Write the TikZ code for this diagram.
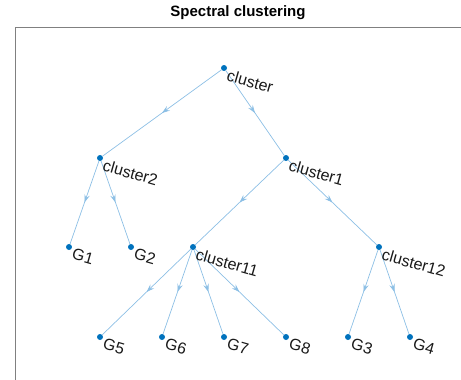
\documentclass[tikz,border=0pt]{standalone}
\usepackage{fontspec}
\setmainfont{Liberation Sans}
\usetikzlibrary{arrows.meta,decorations.markings}
\definecolor{mblue}{rgb}{0,0.447,0.741}
\definecolor{eblue}{rgb}{0.55,0.75,0.9}
\definecolor{axgray}{rgb}{0.5,0.5,0.5}
\tikzset{
  dot/.style={circle,fill=mblue,inner sep=0,minimum size=6pt},
  lbl/.style={anchor=north west,inner sep=0,rotate=-16,font=\fontsize{16}{18}\selectfont,text=black!90},
  edge/.style={draw=eblue,line width=0.7pt,postaction={decorate},
    decoration={markings,mark=at position 0.5 with {\arrow[eblue]{Stealth[length=8pt,width=5.5pt,inset=3pt]}}}},
}
\begin{document}
\begin{tikzpicture}[x=1pt,y=-1pt]
\useasboundingbox (0,0) rectangle (461,380);
% axes
\draw[axgray,line width=1pt] (15,380) -- (15,27) -- (461,27);
\node[font=\bfseries\fontsize{15}{17}\selectfont] (title) at (238,13) {Spectral clustering};
% nodes
\node[dot] (cluster) at (224,68) {};
\node[dot] (cluster2) at (100,158) {};
\node[dot] (cluster1) at (286,158) {};
\node[dot] (G1) at (69,247) {};
\node[dot] (G2) at (131,247) {};
\node[dot] (cluster11) at (193,247) {};
\node[dot] (cluster12) at (379,247) {};
\node[dot] (G5) at (100,337) {};
\node[dot] (G6) at (162,337) {};
\node[dot] (G7) at (224,337) {};
\node[dot] (G8) at (286,337) {};
\node[dot] (G3) at (348,337) {};
\node[dot] (G4) at (410,337) {};
% edges
\foreach \a/\b in {cluster/cluster2,cluster/cluster1,cluster2/G1,cluster2/G2,
  cluster1/cluster11,cluster1/cluster12,cluster11/G5,cluster11/G6,cluster11/G7,
  cluster11/G8,cluster12/G3,cluster12/G4}
  \draw[edge] (\a) -- (\b);
% labels
\foreach \n in {cluster,cluster2,cluster1,G1,G2,cluster11,cluster12,G5,G6,G7,G8,G3,G4}
  \node[lbl] (l\n) at ([xshift=5pt,yshift=-1pt]\n.center) {\n};
\end{tikzpicture}
\end{document}
